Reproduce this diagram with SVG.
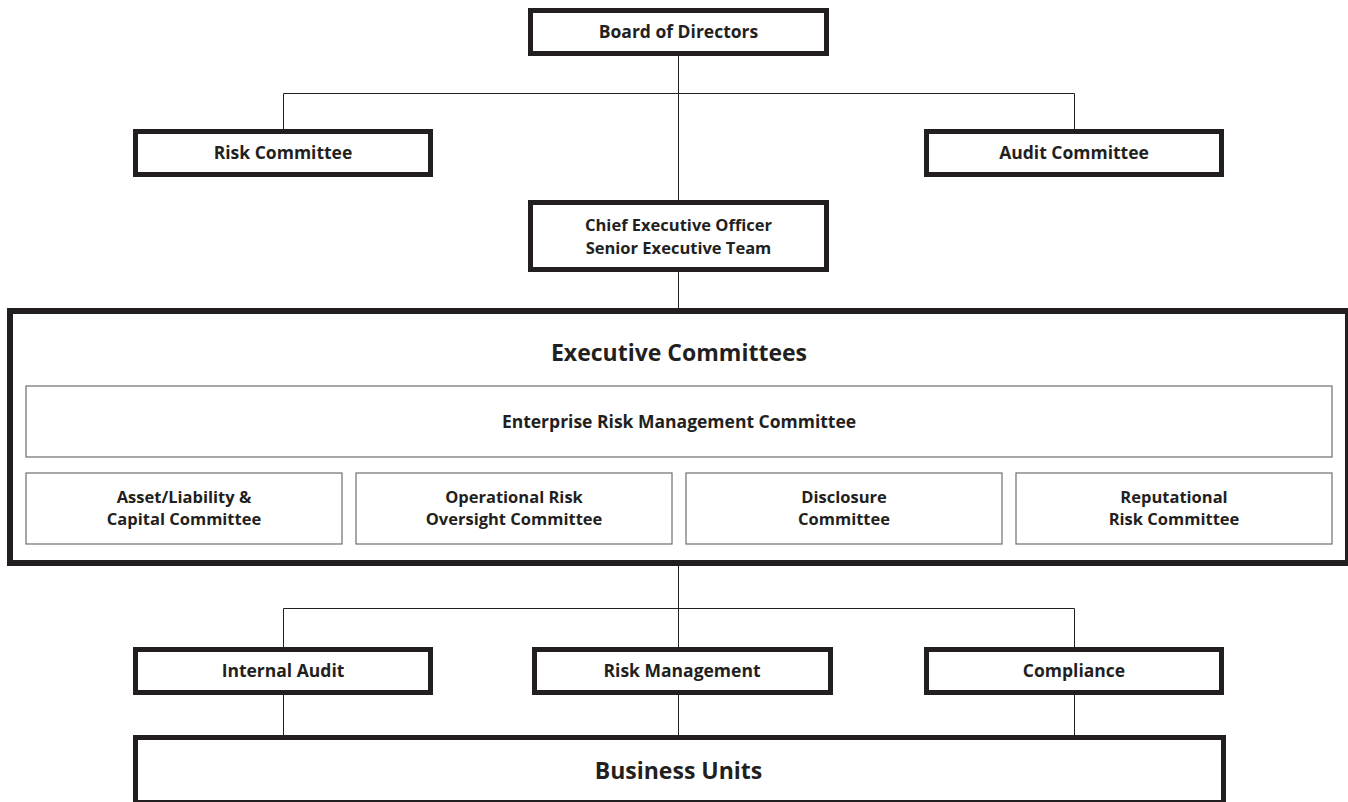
<svg xmlns="http://www.w3.org/2000/svg" width="1348" height="802" viewBox="0 0 1348 802">
<style>
.thick{fill:#fff;stroke:#231f20;stroke-width:5}
.big{fill:#fff;stroke:#231f20;stroke-width:6}
.thin{fill:#fff;stroke:#6d6e71;stroke-width:1.2}
.lbl{font-family:"Open Sans","Liberation Sans",sans-serif;font-weight:bold;font-size:17.5px;fill:#231f20;text-anchor:middle}
.two{font-size:16.5px}
.lg{font-family:"Open Sans","Liberation Sans",sans-serif;font-weight:bold;font-size:23px;fill:#231f20;text-anchor:middle}
.conn{stroke:#231f20;stroke-width:1;fill:none}
</style>
<rect width="1348" height="802" fill="#fff"/>
<g id="connectors">
<path class="conn" d="M678.5 56V200M283.5 129V93.5H1074.5V129"/>
<path class="conn" d="M678.5 272V308"/>
<path class="conn" d="M678.5 566V647M283.5 647V608.5H1074.5V647"/>
<path class="conn" d="M283.5 695V735M678.5 695V735M1074.5 695V735"/>
</g>
<g id="board"><rect class="thick" x="530.5" y="10.5" width="296" height="43"/><text class="lbl" x="678.5" y="38">Board of Directors</text></g>
<g id="risk-committee"><rect class="thick" x="135.5" y="131.5" width="295" height="43"/><text class="lbl" x="283" y="159">Risk Committee</text></g>
<g id="audit-committee"><rect class="thick" x="926.5" y="131.5" width="295" height="43"/><text class="lbl" x="1074" y="159">Audit Committee</text></g>
<g id="ceo"><rect class="thick" x="530.5" y="202.5" width="296" height="67"/><text class="lbl two" x="678.5" y="231">Chief Executive Officer</text><text class="lbl two" x="678.5" y="254">Senior Executive Team</text></g>
<g id="executive-committees"><rect class="big" x="10" y="311" width="1338" height="252"/><text class="lg" x="679" y="361">Executive Committees</text></g>
<g id="erm"><rect class="thin" x="26" y="386" width="1306" height="71"/><text class="lbl" x="679" y="427.5">Enterprise Risk Management Committee</text></g>
<g id="alco"><rect class="thin" x="26" y="473" width="316" height="71"/><text class="lbl two" x="184" y="502.5">Asset/Liability &amp;</text><text class="lbl two" x="184" y="525">Capital Committee</text></g>
<g id="oroc"><rect class="thin" x="356" y="473" width="316" height="71"/><text class="lbl two" x="514" y="502.5">Operational Risk</text><text class="lbl two" x="514" y="525">Oversight Committee</text></g>
<g id="disclosure"><rect class="thin" x="686" y="473" width="316" height="71"/><text class="lbl two" x="844" y="502.5">Disclosure</text><text class="lbl two" x="844" y="525">Committee</text></g>
<g id="reputational"><rect class="thin" x="1016" y="473" width="316" height="71"/><text class="lbl two" x="1174" y="502.5">Reputational</text><text class="lbl two" x="1174" y="525">Risk Committee</text></g>
<g id="internal-audit"><rect class="thick" x="135.5" y="649.5" width="295" height="43"/><text class="lbl" x="283" y="677">Internal Audit</text></g>
<g id="risk-management"><rect class="thick" x="534.5" y="649.5" width="296" height="43"/><text class="lbl" x="682" y="677">Risk Management</text></g>
<g id="compliance"><rect class="thick" x="926.5" y="649.5" width="295" height="43"/><text class="lbl" x="1074" y="677">Compliance</text></g>
<g id="business-units"><rect class="thick" x="135.5" y="737.5" width="1088" height="65"/><text class="lg" x="678.5" y="779">Business Units</text></g>
</svg>
